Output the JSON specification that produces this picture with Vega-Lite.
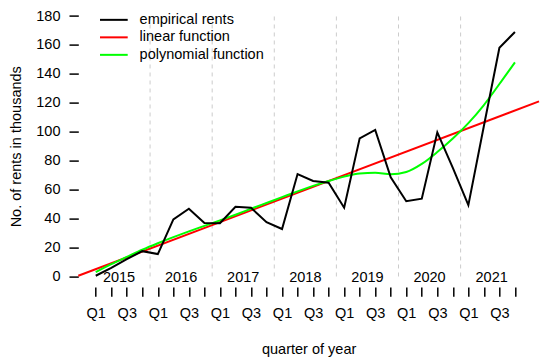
{
  "$schema": "https://vega.github.io/schema/vega-lite/v6.json",
  "width": 460.7,
  "height": 281.3,
  "autosize": {"type": "none"},
  "padding": {"left": 78.3, "top": 5.6, "right": 11, "bottom": 74.1},
  "background": "white",
  "config": {
    "view": {"stroke": null},
    "font": "Liberation Sans",
    "text": {"font": "Liberation Sans"}
  },
  "datasets": {
    "rents": [
      {"t": 1, "v": 0.5, "series": "empirical rents"},
      {"t": 2, "v": 6, "series": "empirical rents"},
      {"t": 3, "v": 12, "series": "empirical rents"},
      {"t": 4, "v": 17.5, "series": "empirical rents"},
      {"t": 5, "v": 15.5, "series": "empirical rents"},
      {"t": 6, "v": 39.5, "series": "empirical rents"},
      {"t": 7, "v": 46.8, "series": "empirical rents"},
      {"t": 8, "v": 37, "series": "empirical rents"},
      {"t": 9, "v": 36.8, "series": "empirical rents"},
      {"t": 10, "v": 48.2, "series": "empirical rents"},
      {"t": 11, "v": 47.5, "series": "empirical rents"},
      {"t": 12, "v": 37.5, "series": "empirical rents"},
      {"t": 13, "v": 32.8, "series": "empirical rents"},
      {"t": 14, "v": 70.8, "series": "empirical rents"},
      {"t": 15, "v": 66, "series": "empirical rents"},
      {"t": 16, "v": 64.8, "series": "empirical rents"},
      {"t": 17, "v": 47.5, "series": "empirical rents"},
      {"t": 18, "v": 95.5, "series": "empirical rents"},
      {"t": 19, "v": 101.3, "series": "empirical rents"},
      {"t": 20, "v": 68.5, "series": "empirical rents"},
      {"t": 21, "v": 52, "series": "empirical rents"},
      {"t": 22, "v": 53.8, "series": "empirical rents"},
      {"t": 23, "v": 99.6, "series": "empirical rents"},
      {"t": 24, "v": 75, "series": "empirical rents"},
      {"t": 25, "v": 49.3, "series": "empirical rents"},
      {"t": 26, "v": 104, "series": "empirical rents"},
      {"t": 27, "v": 158, "series": "empirical rents"},
      {"t": 28, "v": 169, "series": "empirical rents"}
    ],
    "linear": [
      {"t": -0.123, "v": 0.5, "series": "linear function"},
      {"t": 29.55, "v": 121, "series": "linear function"}
    ],
    "poly": [
      {"t": 1, "v": 3, "series": "polynomial function"},
      {"t": 2, "v": 8.5, "series": "polynomial function"},
      {"t": 3, "v": 13.5, "series": "polynomial function"},
      {"t": 4, "v": 18.5, "series": "polynomial function"},
      {"t": 5, "v": 23, "series": "polynomial function"},
      {"t": 6, "v": 27.2, "series": "polynomial function"},
      {"t": 7, "v": 31.2, "series": "polynomial function"},
      {"t": 8, "v": 35, "series": "polynomial function"},
      {"t": 9, "v": 38.8, "series": "polynomial function"},
      {"t": 10, "v": 42.7, "series": "polynomial function"},
      {"t": 11, "v": 46.8, "series": "polynomial function"},
      {"t": 12, "v": 50.8, "series": "polynomial function"},
      {"t": 13, "v": 54.8, "series": "polynomial function"},
      {"t": 14, "v": 58.8, "series": "polynomial function"},
      {"t": 15, "v": 62.6, "series": "polynomial function"},
      {"t": 16, "v": 66, "series": "polynomial function"},
      {"t": 17, "v": 69, "series": "polynomial function"},
      {"t": 18, "v": 71.2, "series": "polynomial function"},
      {"t": 19, "v": 71.7, "series": "polynomial function"},
      {"t": 20, "v": 70.6, "series": "polynomial function"},
      {"t": 21, "v": 72.2, "series": "polynomial function"},
      {"t": 22, "v": 77.8, "series": "polynomial function"},
      {"t": 23, "v": 86, "series": "polynomial function"},
      {"t": 24, "v": 95.3, "series": "polynomial function"},
      {"t": 25, "v": 106, "series": "polynomial function"},
      {"t": 26, "v": 118.5, "series": "polynomial function"},
      {"t": 27, "v": 133, "series": "polynomial function"},
      {"t": 28, "v": 148, "series": "polynomial function"}
    ],
    "bounds": [
      {"t": 4.5}, {"t": 8.5}, {"t": 12.5}, {"t": 16.5}, {"t": 20.5}, {"t": 24.5}
    ],
    "years": [
      {"t": 2.5, "year": "2015"},
      {"t": 6.5, "year": "2016"},
      {"t": 10.5, "year": "2017"},
      {"t": 14.5, "year": "2018"},
      {"t": 18.5, "year": "2019"},
      {"t": 22.5, "year": "2020"},
      {"t": 26.5, "year": "2021"}
    ]
  },
  "layer": [
    {
      "data": {"name": "bounds"},
      "mark": {"type": "rule", "color": "#cccccc", "strokeDash": [4, 4], "strokeWidth": 1},
      "encoding": {
        "x": {
          "field": "t",
          "type": "quantitative",
          "scale": {"domain": [-0.123, 29.55], "nice": false, "zero": false},
          "axis": {
            "values": [1, 2, 3, 4, 5, 6, 7, 8, 9, 10, 11, 12, 13, 14, 15, 16, 17, 18, 19, 20, 21, 22, 23, 24, 25, 26, 27, 28],
            "tickCount": 60,
            "labelExpr": "datum.value % 4 == 1 ? 'Q1' : (datum.value % 4 == 3 ? 'Q3' : '')",
            "domain": false,
            "grid": false,
            "tickSize": 9.3,
            "tickColor": "black",
            "tickWidth": 1.5,
            "labelFont": "Liberation Sans",
            "labelFontSize": 14.5,
            "labelColor": "black",
            "labelPadding": 10,
            "labelOverlap": false,
            "labelFlush": false,
            "labelBound": false,
            "title": "quarter of year",
            "titleFont": "Liberation Sans",
            "titleFontSize": 14.5,
            "titleFontWeight": "normal",
            "titleColor": "black",
            "titlePadding": 23
          }
        },
        "y": {
          "datum": 0,
          "type": "quantitative",
          "scale": {"domain": [-7.2, 187.2], "nice": false, "zero": false},
          "axis": {
            "values": [0, 20, 40, 60, 80, 100, 120, 140, 160, 180],
            "tickCount": 40,
            "domain": false,
            "grid": false,
            "tickSize": 9.3,
            "tickColor": "black",
            "tickWidth": 1.5,
            "labelFont": "Liberation Sans",
            "labelFontSize": 14.5,
            "labelColor": "black",
            "labelPadding": 9,
            "labelOverlap": false,
            "labelFlush": false,
            "labelBound": false,
            "title": "No. of rents in thousands",
            "titleFont": "Liberation Sans",
            "titleFontSize": 14.5,
            "titleFontWeight": "normal",
            "titleColor": "black",
            "titlePadding": 12
          }
        },
        "y2": {"datum": 180}
      }
    },
    {
      "mark": {"type": "rule", "color": "black", "strokeWidth": 1.5},
      "encoding": {
        "x": {"datum": 1, "type": "quantitative"},
        "x2": {"datum": 28},
        "y": {"datum": -7.2, "type": "quantitative"}
      }
    },
    {
      "mark": {"type": "rule", "color": "black", "strokeWidth": 1.5},
      "encoding": {
        "x": {"datum": -0.123, "type": "quantitative"},
        "y": {"datum": 0, "type": "quantitative"},
        "y2": {"datum": 180}
      }
    },
    {
      "data": {"name": "years"},
      "mark": {"type": "text", "fontSize": 14.5, "color": "black", "baseline": "middle", "align": "center", "dy": 1.5, "font": "Liberation Sans"},
      "encoding": {
        "x": {"field": "t", "type": "quantitative"},
        "y": {"datum": 0, "type": "quantitative"},
        "text": {"field": "year"}
      }
    },
    {
      "data": {"name": "linear"},
      "mark": {"type": "line", "strokeWidth": 2},
      "encoding": {
        "x": {"field": "t", "type": "quantitative"},
        "y": {"field": "v", "type": "quantitative"},
        "color": {
          "field": "series",
          "type": "nominal",
          "scale": {"domain": ["empirical rents", "linear function", "polynomial function"], "range": ["#000000", "#ff0000", "#00ff00"]},
          "legend": {
            "orient": "none",
            "legendX": 21.7,
            "legendY": 7,
            "title": null,
            "padding": 0,
            "symbolType": "M-5,0H5",
            "symbolSize": 30.7,
            "symbolStrokeWidth": 2,
            "symbolOffset": 6.6,
            "labelOffset": 18.5,
            "labelFont": "Liberation Sans",
            "labelFontSize": 14.5,
            "labelColor": "black",
            "rowPadding": 2.5
          }
        }
      }
    },
    {
      "data": {"name": "poly"},
      "mark": {"type": "line", "strokeWidth": 2, "interpolate": "monotone"},
      "encoding": {
        "x": {"field": "t", "type": "quantitative"},
        "y": {"field": "v", "type": "quantitative"},
        "color": {"field": "series", "type": "nominal"}
      }
    },
    {
      "data": {"name": "rents"},
      "mark": {"type": "line", "strokeWidth": 2},
      "encoding": {
        "x": {"field": "t", "type": "quantitative"},
        "y": {"field": "v", "type": "quantitative"},
        "color": {"field": "series", "type": "nominal"}
      }
    }
  ]
}
